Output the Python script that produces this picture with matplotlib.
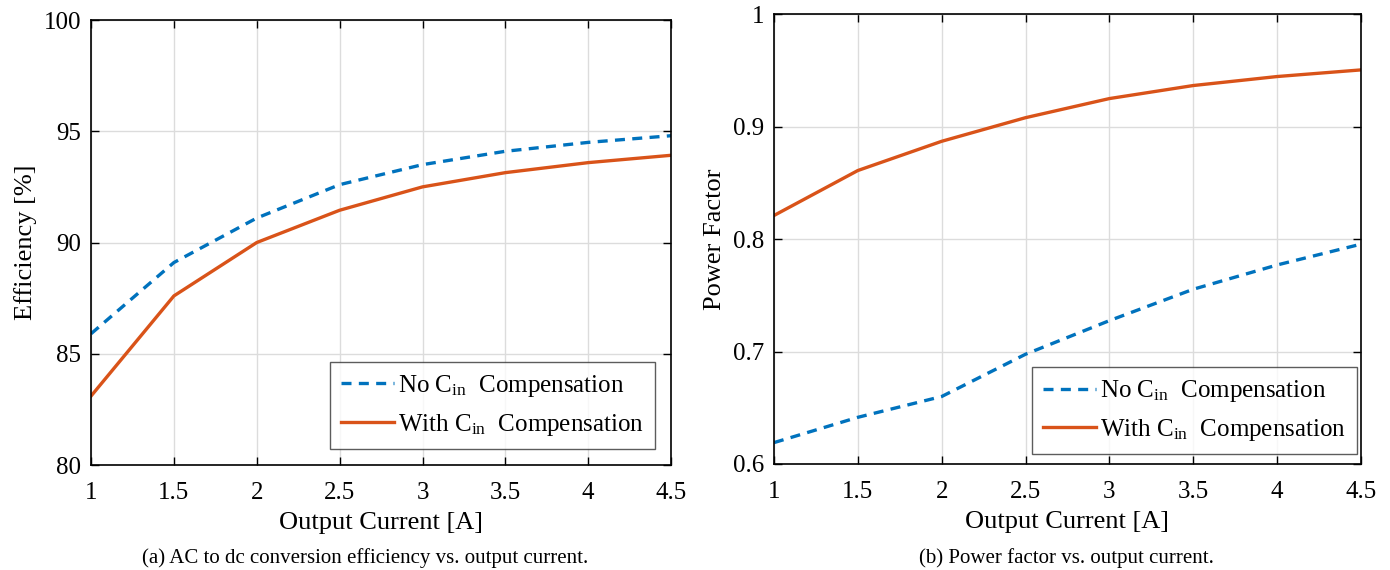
import matplotlib
matplotlib.use("Agg")
from matplotlib import pyplot as plt

plt.rcParams['font.family'] = ['Liberation Serif', 'DejaVu Serif']
plt.rcParams['mathtext.fontset'] = 'custom'
plt.rcParams['mathtext.rm'] = 'Liberation Serif'
plt.rcParams['mathtext.it'] = 'Liberation Serif'

current = [1, 1.5, 2, 2.5, 3, 3.5, 4, 4.5]
eff_no = [85.9, 89.1, 91.1, 92.6, 93.5, 94.1, 94.5, 94.8]
eff_with = [83.1, 87.6, 90.0, 91.45, 92.5, 93.14, 93.59, 93.92]
pf_no = [0.619, 0.6415, 0.660, 0.6976, 0.7275, 0.7554, 0.777, 0.7955]
pf_with = [0.821, 0.861, 0.887, 0.908, 0.925, 0.9366, 0.9446, 0.9505]

xticks = [1, 1.5, 2, 2.5, 3, 3.5, 4, 4.5]
xticklabels = ['1', '1.5', '2', '2.5', '3', '3.5', '4', '4.5']
eff_ticks = [80, 85, 90, 95, 100]
pf_ticks = [0.6, 0.7, 0.8, 0.9, 1.0]
pf_ticklabels = ['0.6', '0.7', '0.8', '0.9', '1']

blue = '#0072BD'
orange = '#D95319'
lab_no = r'No C$_{\mathrm{in}}$  Compensation'
lab_with = r'With C$_{\mathrm{in}}$  Compensation'

TICK = 18
LAB = 19
LEG = 18

fig = plt.figure(figsize=(13.9, 5.7), dpi=100)
ax1 = fig.add_axes([0.0655, 0.1842, 0.4173, 0.7807])
ax2 = fig.add_axes([0.5568, 0.186, 0.4223, 0.789])


def style(ax):
    ax.grid(True, color='#dcdcdc', linewidth=1)
    ax.set_axisbelow(True)
    ax.tick_params(direction='in', top=True, right=True, labelsize=TICK, length=6, width=1, pad=7)
    ax.tick_params(axis='x', pad=12)
    for s in ax.spines.values():
        s.set_linewidth(1.2)
    ax.set_xlim(1, 4.5)
    ax.set_xticks(xticks)
    ax.set_xticklabels(xticklabels)
    ax.set_xlabel('Output Current [A]', fontsize=LAB, labelpad=6)


def legend(ax, anchor):
    leg = ax.legend(loc='lower right', bbox_to_anchor=anchor, fontsize=LEG, frameon=True,
                    fancybox=False, edgecolor='#333333', handlelength=2.1, handletextpad=0.15,
                    borderpad=0.45, labelspacing=0.5, borderaxespad=0)
    leg.get_frame().set_linewidth(1.0)


ax1.plot(current, eff_no, '--', color=blue, lw=2.4, dashes=(3, 2.2), label=lab_no)
ax1.plot(current, eff_with, '-', color=orange, lw=2.4, label=lab_with)
style(ax1)
ax1.set_ylim(80, 100)
ax1.set_yticks(eff_ticks)
ax1.set_ylabel('Efficiency [%]', fontsize=LAB, labelpad=5)
legend(ax1, (0.972, 0.036))

ax2.plot(current, pf_no, '--', color=blue, lw=2.4, dashes=(3, 2.2), label=lab_no)
ax2.plot(current, pf_with, '-', color=orange, lw=2.4, label=lab_with)
style(ax2)
ax2.set_ylim(0.6, 1.0)
ax2.set_yticks(pf_ticks)
ax2.set_yticklabels(pf_ticklabels)
ax2.set_ylabel('Power Factor', fontsize=LAB, labelpad=5)
legend(ax2, (0.993, 0.022))

fig.text(0.2626, 0.012, '(a) AC to dc conversion efficiency vs. output current.', ha='center', fontsize=15)
fig.text(0.767, 0.012, '(b) Power factor vs. output current.', ha='center', fontsize=15)

fig.savefig('out.png', dpi=100)
